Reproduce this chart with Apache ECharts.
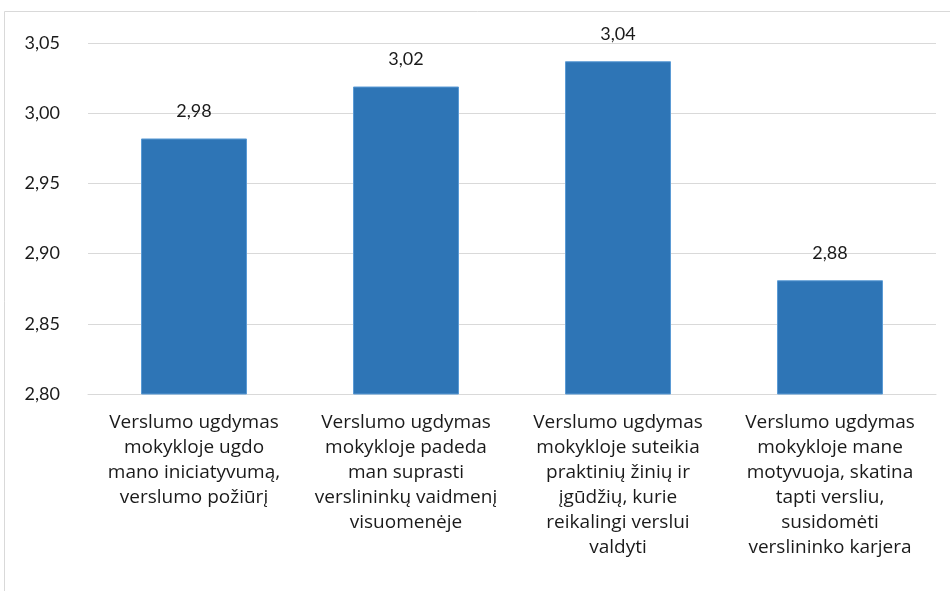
<!DOCTYPE html>
<html>
<head>
<meta charset="utf-8">
<script src="https://cdn.jsdelivr.net/npm/echarts@6/dist/echarts.min.js"></script>
<style>
  html, body { margin: 0; padding: 0; background: #fff; }
  #main { width: 950px; height: 591px; }
</style>
</head>
<body>
<div id="main"></div>
<script>
// kategorijos (ašies užrašai su eilučių lūžiais kaip originale)
var categories = [
    'Verslumo ugdymas\nmokykloje ugdo\nmano iniciatyvumą,\nverslumo požiūrį',
    'Verslumo ugdymas\nmokykloje padeda\nman suprasti\nverslininkų vaidmenį\nvisuomenėje',
    'Verslumo ugdymas\nmokykloje suteikia\npraktinių žinių ir\nįgūdžių, kurie\nreikalingi verslui\nvaldyti',
    'Verslumo ugdymas\nmokykloje mane\nmotyvuoja, skatina\ntapti versliu,\nsusidomėti\nverslininko karjera'
];
var values = [2.982, 3.019, 3.037, 2.881];
var yMin = 2.80, yMax = 3.05, yStep = 0.05;

function fmt(v) {
    return Number(v).toFixed(2).replace('.', ',');
}

var myChart = echarts.init(document.getElementById('main'));
var font = 'Lato, "Liberation Sans", sans-serif';
var catFont = '"Open Sans", "Noto Sans", sans-serif';

var option = {
    animation: false,
    backgroundColor: '#fff',
    graphic: [{
        type: 'rect',
        shape: { x: 4.5, y: 11.5, width: 1200, height: 1200 },
        style: { fill: 'none', stroke: '#d9d9d9', lineWidth: 1 }
    }],
    grid: { left: 88, right: 14, top: 43, bottom: 197 },
    xAxis: {
        type: 'category',
        data: categories,
        axisLine: { show: true, lineStyle: { color: '#d9d9d9' } },
        axisTick: { show: false },
        axisLabel: {
            interval: 0,
            margin: 16,
            color: '#1a1a1a',
            fontFamily: catFont,
            fontSize: 19,
            lineHeight: 25
        }
    },
    yAxis: {
        type: 'value',
        min: yMin,
        max: yMax,
        interval: yStep,
        axisLine: { show: false },
        axisTick: { show: false },
        splitLine: { lineStyle: { color: '#d9d9d9', width: 1 } },
        axisLabel: {
            formatter: fmt,
            margin: 28,
            color: '#1a1a1a',
            fontFamily: font,
            fontSize: 18
        }
    },
    series: [{
        type: 'bar',
        data: values,
        barWidth: '50%',
        itemStyle: {
            color: '#2e75b6',
            borderColor: '#5b9bd5',
            borderWidth: 1
        },
        label: {
            show: true,
            position: 'top',
            distance: 18,
            formatter: function (p) { return fmt(p.value); },
            color: '#1a1a1a',
            fontFamily: font,
            fontSize: 18
        }
    }]
};
myChart.setOption(option);
</script>
</body>
</html>
